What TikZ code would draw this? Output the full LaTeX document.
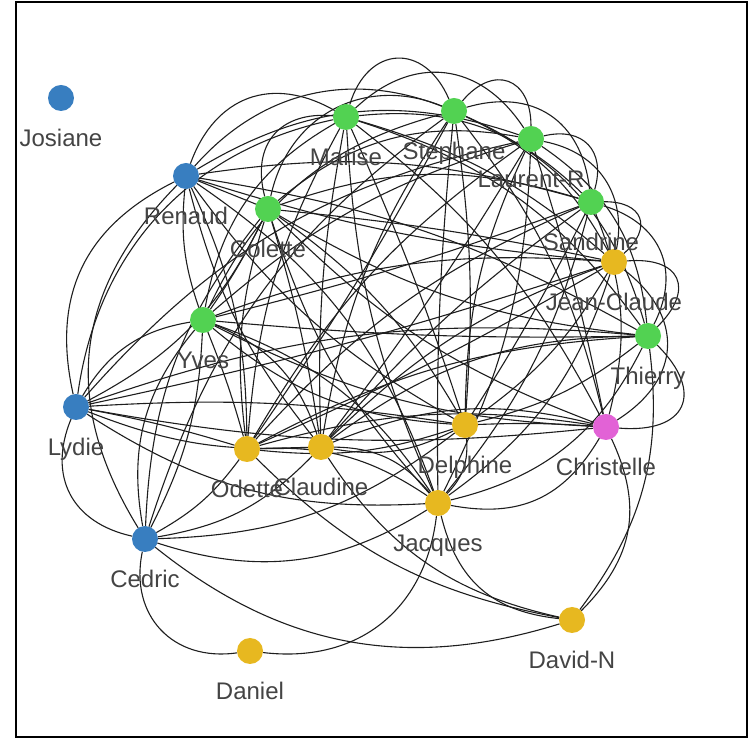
\documentclass[tikz,border=0pt]{standalone}
\usepackage{fontspec}
\setmainfont{Liberation Sans}
\pgfdeclarelayer{bg}
\pgfsetlayers{bg,main}
\definecolor{cblue}{RGB}{56,126,192}
\definecolor{cgreen}{RGB}{82,210,82}
\definecolor{cyellow}{RGB}{231,184,32}
\definecolor{cpink}{RGB}{226,98,214}
\definecolor{lblc}{RGB}{68,68,68}
\definecolor{edgec}{RGB}{30,30,30}
\tikzset{
  vertex/.style={circle, fill=#1, minimum size=26pt, inner sep=0pt, outer sep=0pt},
  lbl/.style={text=lblc, anchor=base, inner sep=0pt, font=\fontsize{24}{28}\selectfont},
  edge/.style={draw=edgec, line width=1.1pt},
  frame/.style={draw=black, line width=2pt}
}
\begin{document}
\begin{tikzpicture}[x=1pt,y=1pt]
\useasboundingbox (0,0) rectangle (750,739);
\draw[frame] (16,2) rectangle (747,737);
% vertices
\node[vertex=cblue]   (Jo) at (61,641) {};
\node[vertex=cblue]   (Re) at (186,563) {};
\node[vertex=cgreen]  (Co) at (268,530) {};
\node[vertex=cgreen]  (Ma) at (346,622) {};
\node[vertex=cgreen]  (St) at (454,628) {};
\node[vertex=cgreen]  (La) at (531,600) {};
\node[vertex=cgreen]  (Sa) at (591,537) {};
\node[vertex=cyellow] (JC) at (614,477) {};
\node[vertex=cgreen]  (Th) at (648,403) {};
\node[vertex=cgreen]  (Yv) at (203,419) {};
\node[vertex=cblue]   (Ly) at (76,332) {};
\node[vertex=cyellow] (Od) at (247,290) {};
\node[vertex=cyellow] (Cl) at (321,292) {};
\node[vertex=cyellow] (De) at (465,314) {};
\node[vertex=cpink]   (Ch) at (606,312) {};
\node[vertex=cyellow] (Ja) at (438,236) {};
\node[vertex=cblue]   (Ce) at (145,200) {};
\node[vertex=cyellow] (Da) at (250,88) {};
\node[vertex=cyellow] (DN) at (572,119) {};
% edges
\begin{pgfonlayer}{bg}
% outer loops
\foreach \a/\b/\g/\l in {
  Ma/St/70/1.6, St/La/70/1.7, La/Sa/60/1.4, Sa/JC/70/1.8, JC/Th/70/1.9, Th/Ch/70/1.9,
  Re/Ma/50/1.2, Co/Ma/55/1.3, Ma/La/50/1.2, St/Sa/50/1.2, Re/St/35/1, Co/St/50/1.1,
  La/JC/45/1.1, Sa/Th/50/1.2, JC/Ch/55/1.3, Ch/DN/35/1.1, Th/DN/22/1,
  DN/Ja/35/1.1, DN/Cl/22/1, DN/Od/17/1, Ce/DN/-28/1,
  Ly/Re/38/1.1, Ce/Ly/50/1.2, Ce/Re/38/1.1, Da/Ce/55/1.2, Ja/Da/45/1.1, Ch/Ja/35/1.1}
  \draw[edge] (\a) to[bend left=\g, looseness=\l] (\b);
% inner edges
\foreach \a/\b/\g in {
  Ly/Yv/25, Ly/Co/-18, Ce/Yv/-12,
  Ly/Od/3, Ly/Cl/-12, Ly/De/6, Ly/Ch/-8, Ly/Ja/-18,
  Ce/Od/-12, Ce/Cl/-18, Ce/De/-18, Ce/Ja/-25,
  Re/Co/0, Re/Yv/-12, Re/Od/12, Re/Cl/-12, Re/De/-12, Re/Sa/12,
  Re/JC/-6, Re/Th/10, Re/La/25, Re/Ja/18,
  Co/Yv/4, Co/La/25, Co/Sa/18, Co/JC/3, Co/Th/-12, Co/Od/-12,
  Co/Cl/4, Co/De/12, Co/Ch/-12, Co/Ja/-12, Co/Ce/-18,
  Ma/Yv/-25, Ma/Sa/25, Ma/JC/12, Ma/Th/18, Ma/Od/-12, Ma/Cl/-6,
  Ma/De/3, Ma/Ch/12, Ma/Ja/-10, Ma/Ly/-35,
  St/Yv/-25, St/JC/18, St/Th/25, St/Od/3, St/Cl/-12, St/De/6,
  St/Ch/12, St/Ja/-3, St/Ce/-18,
  La/Yv/-12, La/Th/25, La/Od/-12, La/Cl/3, La/De/-12, La/Ch/3,
  La/Ja/12, La/Ly/-18,
  Sa/Yv/3, Sa/Ch/18, Sa/Od/-12, Sa/De/3, Sa/Ja/12, Sa/Cl/-6,
  JC/Yv/-12, JC/De/12, JC/Od/3, JC/Ja/18, JC/Cl/-12, JC/Ly/3,
  Th/Yv/3, Th/De/12, Th/Ja/25, Th/Od/-12, Th/Cl/-18, Th/Ly/-12,
  Yv/Od/3, Yv/Cl/25, Yv/De/-18, Yv/Ch/-12, Yv/Ja/18, Yv/Ce/-25,
  Od/Cl/0, Od/De/-12, Od/Ch/12, Od/Ja/18,
  Cl/De/-18, Cl/Ch/18, Cl/Ja/25,
  De/Ch/3, De/Ja/25}
  \draw[edge] (\a) to[bend left=\g] (\b);
\end{pgfonlayer}
% labels
\node[lbl] (lJo) at (61,592.5) {Josiane};
\node[lbl] (lRe) at (186,514.5) {Renaud};
\node[lbl] (lCo) at (268,481.5) {Colette};
\node[lbl] (lMa) at (346,573.5) {Marise};
\node[lbl] (lSt) at (454,579.5) {Stephane};
\node[lbl] (lLa) at (531,551.5) {Laurent-R};
\node[lbl] (lSa) at (591,488.5) {Sandrine};
\node[lbl] (lJC) at (614,428.5) {Jean-Claude};
\node[lbl] (lTh) at (648,354.5) {Thierry};
\node[lbl] (lYv) at (203,370.5) {Yves};
\node[lbl] (lLy) at (76,283.5) {Lydie};
\node[lbl] (lOd) at (247,241.5) {Odette};
\node[lbl] (lCl) at (321,243.5) {Claudine};
\node[lbl] (lDe) at (465,265.5) {Delphine};
\node[lbl] (lCh) at (606,263.5) {Christelle};
\node[lbl] (lJa) at (438,187.5) {Jacques};
\node[lbl] (lCe) at (145,151.5) {Cedric};
\node[lbl] (lDa) at (250,39.5) {Daniel};
\node[lbl] (lDN) at (572,70.5) {David-N};
\end{tikzpicture}
\end{document}
